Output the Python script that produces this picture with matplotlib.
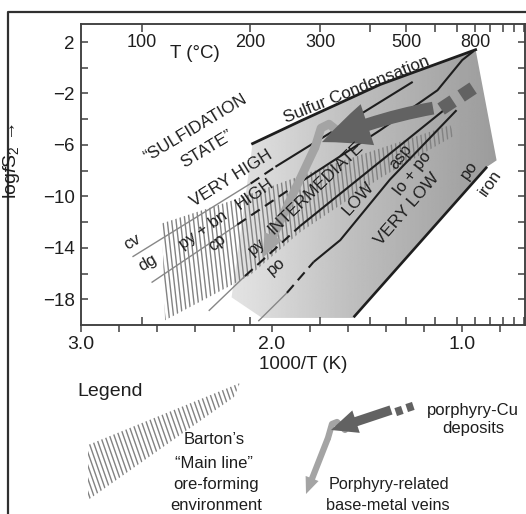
import numpy as np
import matplotlib
matplotlib.use("Agg")
import matplotlib.pyplot as plt
from matplotlib.patches import Polygon, FancyArrowPatch, ArrowStyle
from matplotlib.collections import LineCollection
from matplotlib.lines import Line2D
from matplotlib.transforms import blended_transform_factory

plt.rcParams['font.family'] = ['Liberation Sans', 'DejaVu Sans']
plt.rcParams['mathtext.fontset'] = 'custom'
plt.rcParams['mathtext.rm'] = 'Liberation Sans'
plt.rcParams['mathtext.it'] = 'Liberation Sans:italic'

INK = '#1e1e1e'
AXIS_COLOR = '#404040'
THIN_GRAY = '#878787'
HATCH_GRAY = '#828282'
DARK_ARROW = '#626262'
LIGHT_ARROW = '#a4a4a4'

# ============================================================
# Data: x = 1000/T (K), y = log fS2
# ============================================================

x_major = [3.0, 2.0, 1.0]
x_minor = [2.8, 2.6, 2.4, 2.2, 1.8, 1.6, 1.4, 1.2, 0.8]
y_major = [2, -2, -6, -10, -14, -18]
y_minor = [0, -4, -8, -12, -16]
t_ticks_c = [100, 200, 300, 400, 500, 600, 700, 800, 900, 1000, 1100, 1200]
t_labels_c = [100, 200, 300, 500, 800]

sulfur_x = [2.10, 1.85, 1.43, 0.93]
sulfur_y = [-5.9, -4.15, -1.3, 1.4]

iron_x = [1.57, 0.87]
iron_y = [-19.4, -7.7]

# reaction lines: g = thin gray (outside), d = dashed, s = solid
cvdg_x = [2.73, 2.11, 1.98, 1.26]
cvdg_y = [-14.7, -9.0, -7.7, -1.1]
cvdg_seg = ['g', 'd', 's']

pybn_x = [2.63, 2.18, 1.87, 1.43, 1.13, 1.00, 0.94]
pybn_y = [-16.7, -12.2, -9.1, -4.85, -1.75, 0.6, 1.3]
pybn_seg = ['g', 'd', 's', 's', 's', 's']

pypo_x = [2.33, 2.14, 1.85, 1.08]
pypo_y = [-18.9, -16.2, -12.3, -3.1]
pypo_seg = ['g', 'd', 's']

asp_x = [2.07, 1.92, 1.78, 1.64, 1.38, 1.03]
asp_y = [-19.7, -17.5, -15.1, -13.4, -8.7, -3.3]
asp_seg = ['g', 'd', 's', 's', 's']

# shaded field of the sulfidation states
field_x = [2.10, 1.85, 1.43, 0.93, 0.82, 0.87, 1.57, 2.05, 2.21, 2.14]
field_y = [-5.9, -4.15, -1.3, 1.4, -7.2, -7.7, -19.45, -19.45, -17.85, -10.3]
shade_at_x = [0.82, 1.59, 2.09, 2.30]
shade_val = [0.61, 0.75, 0.87, 0.90]

# Barton's main line band
band_x = [2.575, 2.203, 1.694, 1.064, 1.038, 1.431, 1.851, 2.113, 2.559]
band_y = [-12.1, -10.3, -7.57, -4.46, -5.24, -8.58, -12.79, -16.13, -19.63]

# porphyry-Cu arrow (dark) and base-metal vein arrow (light)
cu_tail = (1.153, -3.14)
cu_tip = (1.736, -5.78)
cu_dash1_x = [1.048, 1.111]
cu_dash1_y = [-2.59, -3.21]
cu_dash2_x = [0.943, 1.006]
cu_dash2_y = [-1.58, -2.20]

vein_hook_x = [1.652, 1.699, 1.741, 1.772]
vein_hook_y = [-4.93, -4.38, -4.69, -6.17]
vein_tip = (2.045, -14.75)

region_labels = ['\u201cSULFIDATION', 'STATE\u201d', 'Sulfur Condensation', 'VERY HIGH',
                 'HIGH', 'INTERMEDIATE', 'LOW', 'VERY LOW']
region_x = [2.40, 2.34, 1.557, 2.213, 2.087, 1.772, 1.547, 1.290]
region_y = [-4.69, -6.33, -1.74, -8.58, -9.83, -9.36, -10.14, -11.0]
region_rot = [31, 31, 22, 32, 35, 44, 48, 49]

mineral_labels = ['cv', 'dg', 'py + bn', 'cp', 'py', 'po', 'asp', 'lo + po', 'po', 'iron']
mineral_x = [2.732, 2.648, 2.36, 2.287, 2.077, 1.977, 1.326, 1.258, 0.964, 0.854]
mineral_y = [-13.56, -15.2, -12.63, -13.56, -13.88, -15.43, -6.95, -8.2, -7.96, -8.97]
mineral_rot = [30, 30, 35, 40, 40, 40, 52, 52, 55, 55]

# legend (figure pixel coordinates, y down)
leg_band_x = [88, 240, 234, 88]
leg_band_y = [445, 383, 397, 500]
leg_cu_tail = (391, 410)
leg_cu_tip = (331, 430)
leg_cu_dash1_x = [395.7, 402.3]
leg_cu_dash1_y = [412.1, 409.9]
leg_cu_dash2_x = [406.7, 413.3]
leg_cu_dash2_y = [408.1, 405.9]
leg_vein_hook_x = [345, 337, 332, 328]
leg_vein_hook_y = [430, 422, 424, 438]
leg_vein_tip = (306, 494)

legend_texts = ['Legend', 'Barton\u2019s', '\u201cMain line\u201d', 'ore-forming', 'environment',
                'porphyry-Cu', 'deposits', 'Porphyry-related', 'base-metal veins']
legend_tx = [110, 214, 214, 216, 216, 473, 473, 389, 388]
legend_ty = [392, 440, 463, 485, 506, 410, 428, 485, 505]
legend_size = [14, 12, 12, 12, 12, 12, 12, 11.7, 11.7]


def draw_reaction(ax, xs, ys, segs):
    styles = {'g': dict(color=THIN_GRAY, lw=1.0, ls='-'),
              'd': dict(color=INK, lw=1.5, ls=(0, (5, 3))),
              's': dict(color=INK, lw=1.5, ls='-')}
    i = 0
    while i < len(segs):
        j = i
        while j + 1 < len(segs) and segs[j + 1] == segs[i]:
            j += 1
        ax.plot(xs[i:j + 2], ys[i:j + 2], zorder=3, solid_capstyle='butt',
                dash_capstyle='butt', **styles[segs[i]])
        i = j + 1


def hatch(ax, px, py, x0s, slant, ylo, yhi, lw):
    patch = Polygon(np.column_stack([px, py]), closed=True, fc='none', ec='none')
    ax.add_patch(patch)
    segs = [[(x0, ylo), (x0 + slant * (yhi - ylo), yhi)] for x0 in x0s]
    lc = LineCollection(segs, colors=HATCH_GRAY, linewidths=lw, zorder=2)
    ax.add_collection(lc)
    lc.set_clip_path(patch)


def arrow(ax, tail, tip, hl, hw, tw, color, rad, z):
    style = ArrowStyle.Simple(head_length=hl, head_width=hw, tail_width=tw)
    ax.add_patch(FancyArrowPatch(tail, tip, arrowstyle=style, mutation_scale=1,
                                 shrinkA=0, shrinkB=0, color=color, lw=0,
                                 connectionstyle=f'arc3,rad={rad}', zorder=z))


fig = plt.figure(figsize=(5.26, 5.14), dpi=100)
fig.patch.set_facecolor('white')

# overlay in pixel coordinates for frame and legend
lax = fig.add_axes([0, 0, 1, 1], zorder=0)
lax.set_xlim(0, 526)
lax.set_ylim(514, 0)
lax.axis('off')

ax = fig.add_axes([81 / 526, 189 / 514, 444 / 526, 301 / 514], zorder=1)
ax.set_xlim(3.0, 0.671)
ax.set_ylim(-20.0, 3.4)

# shaded field with left-to-right gradient
field = Polygon(np.column_stack([field_x, field_y]), closed=True, fc='none', ec='none')
ax.add_patch(field)
gv = np.linspace(3.0, 0.671, 400)
shade = np.interp(gv, shade_at_x, shade_val)
img = ax.imshow(np.tile(shade, (2, 1)), cmap='gray', vmin=0, vmax=1,
                extent=[3.0, 0.671, -20.0, 3.4], aspect='auto', zorder=1,
                interpolation='bilinear')
img.set_clip_path(field)

hatch(ax, band_x, band_y, np.arange(0.80, 2.70, 0.023), 0.0075, -21, 0, 1.0)

draw_reaction(ax, cvdg_x, cvdg_y, cvdg_seg)
draw_reaction(ax, pybn_x, pybn_y, pybn_seg)
draw_reaction(ax, pypo_x, pypo_y, pypo_seg)
draw_reaction(ax, asp_x, asp_y, asp_seg)
ax.plot(sulfur_x, sulfur_y, color=INK, lw=2.0, zorder=3)
ax.plot(iron_x, iron_y, color=INK, lw=1.9, zorder=3, solid_capstyle='butt')

# arrows
ax.plot(vein_hook_x, vein_hook_y, color=LIGHT_ARROW, lw=6.2, zorder=4,
        solid_capstyle='round', solid_joinstyle='round')
arrow(ax, (vein_hook_x[-1], vein_hook_y[-1]), vein_tip, 17, 14, 6.2, LIGHT_ARROW, 0.0, 4)
arrow(ax, cu_tail, cu_tip, 35, 31, 9.2, DARK_ARROW, 0.06, 5)
for dx, dy in [(cu_dash1_x, cu_dash1_y), (cu_dash2_x, cu_dash2_y)]:
    ax.plot(dx, dy, color=DARK_ARROW, lw=9.6, solid_capstyle='butt', zorder=5)

for t, x, y, r in zip(region_labels, region_x, region_y, region_rot):
    ax.text(x, y, t, rotation=r, ha='center', va='center', fontsize=12.3, color=INK, zorder=6)
for t, x, y, r in zip(mineral_labels, mineral_x, mineral_y, mineral_rot):
    ax.text(x, y, t, rotation=r, ha='center', va='center', fontsize=12, color=INK, zorder=6)

# axes, ticks
for sp in ax.spines.values():
    sp.set_color(AXIS_COLOR)
    sp.set_linewidth(1.1)
ax.set_xticks(x_major)
ax.set_xticklabels(['3.0', '2.0', '1.0'])
ax.set_xticks(x_minor, minor=True)
ax.set_yticks(y_major)
ax.set_yticks(y_minor, minor=True)
ax.tick_params(axis='x', which='both', direction='out', length=5, width=1.1,
               colors=AXIS_COLOR, labelcolor=INK, labelsize=14, pad=3, top=False)
ax.tick_params(axis='y', which='both', direction='in', length=5, width=1.1,
               colors=AXIS_COLOR, labelcolor=INK, labelsize=13.5, pad=4.5,
               left=True, right=True)

t_pos = [1000.0 / (t + 273.15) for t in t_ticks_c]
ax2 = ax.twiny()
ax2.set_xlim(ax.get_xlim())
ax2.set_xticks(t_pos)
ax2.tick_params(axis='x', which='both', direction='in', length=5.5, width=1.1,
                colors=AXIS_COLOR, top=True, bottom=True, labeltop=False, labelbottom=False)
for sp in ax2.spines.values():
    sp.set_color(AXIS_COLOR)
    sp.set_linewidth(1.1)

top_tr = blended_transform_factory(ax.transData, ax.transAxes)
for t in t_labels_c:
    ax.text(1000.0 / (t + 273.15), 0.94, str(t), transform=top_tr, ha='center',
            va='center', fontsize=13, color=INK, zorder=6)
ax.text(2.402, 1.14, 'T (\u00b0C)', ha='center', va='center', fontsize=13.5, color=INK, zorder=6)

ax.set_xlabel('1000/T (K)', fontsize=13.5, color=INK)
ax.xaxis.set_label_coords(0.5, -0.103)
ax.set_ylabel('log$\\mathit{f}\\mathrm{S}_2$ \u2192', fontsize=14, color=INK)
ax.yaxis.set_label_coords(-0.133, 0.545)

# outer frame
lax.add_line(Line2D([8, 8, 526], [514, 12, 12], color='#303030', lw=1.6))

# legend swatch and arrows
hatch(lax, leg_band_x, leg_band_y, np.arange(-10, 260, 4.6), 0.35, 370, 510, 1.0)
lax.plot(leg_vein_hook_x, leg_vein_hook_y, color=LIGHT_ARROW, lw=4.5,
         solid_capstyle='round', solid_joinstyle='round', zorder=4)
arrow(lax, (leg_vein_hook_x[-1], leg_vein_hook_y[-1]), leg_vein_tip, 12, 10, 4.5,
      LIGHT_ARROW, 0.0, 4)
arrow(lax, leg_cu_tail, leg_cu_tip, 19, 17, 6.8, DARK_ARROW, 0.0, 5)
for dx, dy in [(leg_cu_dash1_x, leg_cu_dash1_y), (leg_cu_dash2_x, leg_cu_dash2_y)]:
    lax.plot(dx, dy, color=DARK_ARROW, lw=6.0, solid_capstyle='butt', zorder=5)

for t, x, y, s in zip(legend_texts, legend_tx, legend_ty, legend_size):
    lax.text(x, y, t, ha='center', va='center', fontsize=s, color=INK)

fig.savefig('out.png', dpi=100, facecolor='white')
